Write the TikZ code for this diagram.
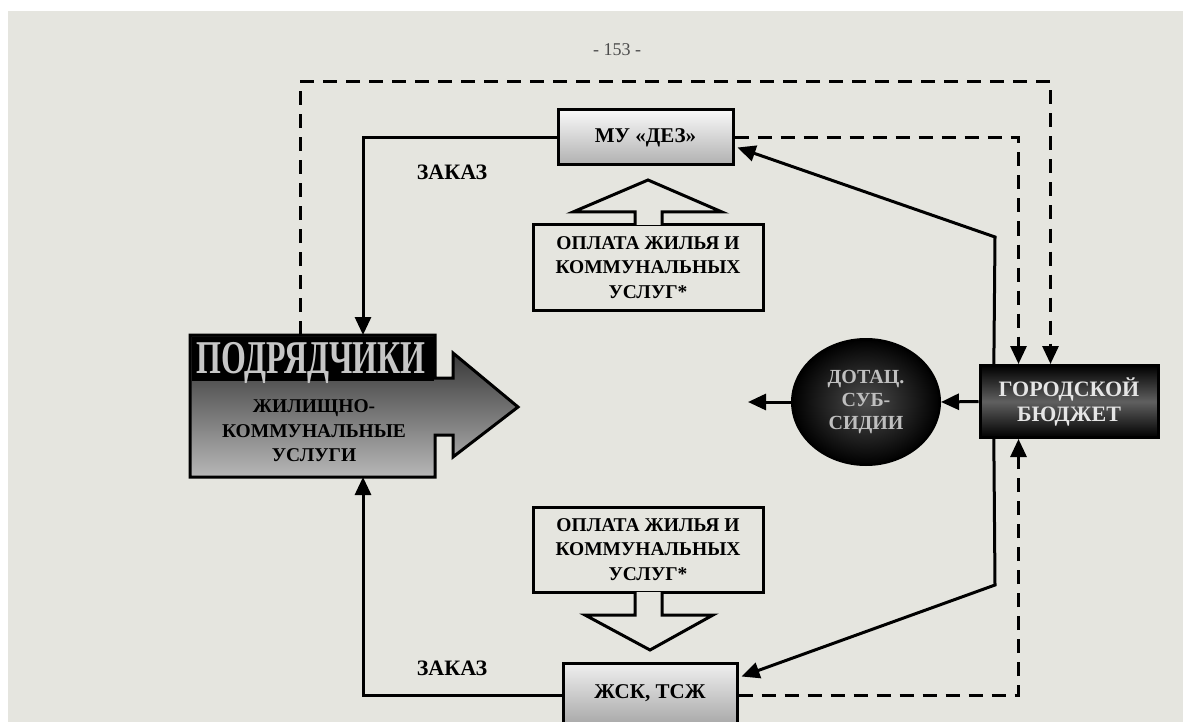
\documentclass[tikz,border=0pt]{standalone}
\usepackage{fontspec}
\setmainfont{Liberation Serif}
\usetikzlibrary{arrows.meta,calc,shapes.geometric}
\definecolor{paper}{RGB}{229,229,223}
\pgfdeclarelayer{bg}
\pgfsetlayers{bg,main}
\tikzset{
  conn/.style={line width=3pt,-{Triangle[length=18pt,width=16pt]}},
  dashconn/.style={conn,dash pattern=on 14pt off 9pt},
  box/.style={draw,line width=3pt,font=\bfseries\fontsize{19.5}{24.5}\selectfont,
    align=center,inner sep=0pt},
  darkbox/.style={box,text=gray!20},
  lbl/.style={font=\bfseries\fontsize{22}{24}\selectfont},
  hollow/.style={draw,line width=3pt,fill=paper,line join=miter},
}
\begin{document}
\begin{tikzpicture}[x=1pt,y=-1pt]
\useasboundingbox (0,0) rectangle (1183,722);
\clip (0,0) rectangle (1183,722);

% page
\begin{pgfonlayer}{bg}
  \fill[white] (0,0) rectangle (1183,722);
  \fill[paper] (8,11) rectangle (1183,722);
\end{pgfonlayer}

\node[font=\fontsize{18}{20}\selectfont,text=gray!60!black] (page) at (617,50) {- 153 -};

% contractors: box with arrow
\shade[top color=black!85,bottom color=black!28,draw,line width=3pt,line join=miter]
  (190,335) -- (435,335) -- (435,378) -- (453,378) -- (453,353) -- (518,407)
  -- (453,457) -- (453,435) -- (435,435) -- (435,477) -- (190,477) -- cycle;
\fill[black] (191.5,336.5) rectangle (433.5,381);
\node[font=\bfseries\fontsize{47}{47}\selectfont,text=gray!45,xscale=0.68] (podtitle)
  at (311,363) {ПОДРЯДЧИКИ};
\node[font=\bfseries\fontsize{19.5}{24.5}\selectfont,align=center] (podtext)
  at (314,431) {ЖИЛИЩНО-\\КОММУНАЛЬНЫЕ\\УСЛУГИ};
\coordinate (podTop) at (363,335);
\coordinate (podBot) at (363,477);
\coordinate (podDash) at (300,335);

% boxes
\node[box,minimum width=175pt,minimum height=55pt,top color=gray!5,bottom color=gray!62,
  font=\bfseries\fontsize{21}{24}\selectfont]
  (mu) at (645.5,137.5) {МУ «ДЕЗ»};
\node[box,minimum width=174pt,minimum height=64pt,top color=gray!12,bottom color=gray!70,
  font=\bfseries\fontsize{21}{24}\selectfont]
  (zhsk) at (650,695) {\raisebox{6pt}{ЖСК, ТСЖ}};
\node[box,minimum width=230pt,minimum height=85pt,fill=paper]
  (opl1) at (648,267.5) {ОПЛАТА ЖИЛЬЯ И\\КОММУНАЛЬНЫХ\\УСЛУГ*};
\node[box,minimum width=230pt,minimum height=85pt,fill=paper]
  (opl2) at (648,549.5) {ОПЛАТА ЖИЛЬЯ И\\КОММУНАЛЬНЫХ\\УСЛУГ*};
\node[darkbox,minimum width=178pt,minimum height=72pt,
  font=\bfseries\fontsize{22}{25}\selectfont,
  top color=black,bottom color=black,middle color=gray!75!black]
  (budget) at (1069,401.5) {ГОРОДСКОЙ\\БЮДЖЕТ};
\node[ellipse,draw,line width=2pt,minimum width=148pt,minimum height=126pt,
  inner color=gray!60!black,outer color=black,text=gray!50,
  font=\bfseries\fontsize{20}{23}\selectfont,align=center,inner sep=0pt]
  (circ) at (866,402) {ДОТАЦ.\\СУБ-\\СИДИИ};

% hollow arrows
\draw[hollow] (635,225) -- (635,212) -- (573,212) -- (648,180) -- (722,212)
  -- (662,212) -- (662,225);
\draw[hollow] (635,592) -- (635,615) -- (585,615) -- (650,650) -- (713,615)
  -- (662,615) -- (662,592);

% labels
\node[lbl] (zak1) at (452,172) {ЗАКАЗ};
\node[lbl] (zak2) at (452,668) {ЗАКАЗ};

% connectors
\coordinate (bmid) at ($(budget.west)+(15,0)$);
\coordinate (leftTip) at (748,402);
\begin{pgfonlayer}{bg}
  \draw[conn] (mu.west) -| (podTop);
  \draw[conn] (zhsk.west) -| (podBot);
  \draw[conn,line join=miter] (bmid) -- (995,237) -- ($(mu.east)+(3,10)$);
  \draw[conn,line join=miter] (bmid) -- (995,585) -- ($(zhsk.north east)+(3,15)$);
  \draw[dashconn] (mu.east) -| ($(budget.north west)+(40,0)$);
  \draw[dashconn] (podDash) |- (700,82) -| ($(budget.north west)+(72,0)$);
  \draw[dashconn] (zhsk.east) -| ($(budget.south west)+(40,0)$);
\end{pgfonlayer}
\draw[conn] (budget.west) -- (circ.east);
\draw[conn] (circ.west) -- (leftTip);
\end{tikzpicture}
\end{document}
